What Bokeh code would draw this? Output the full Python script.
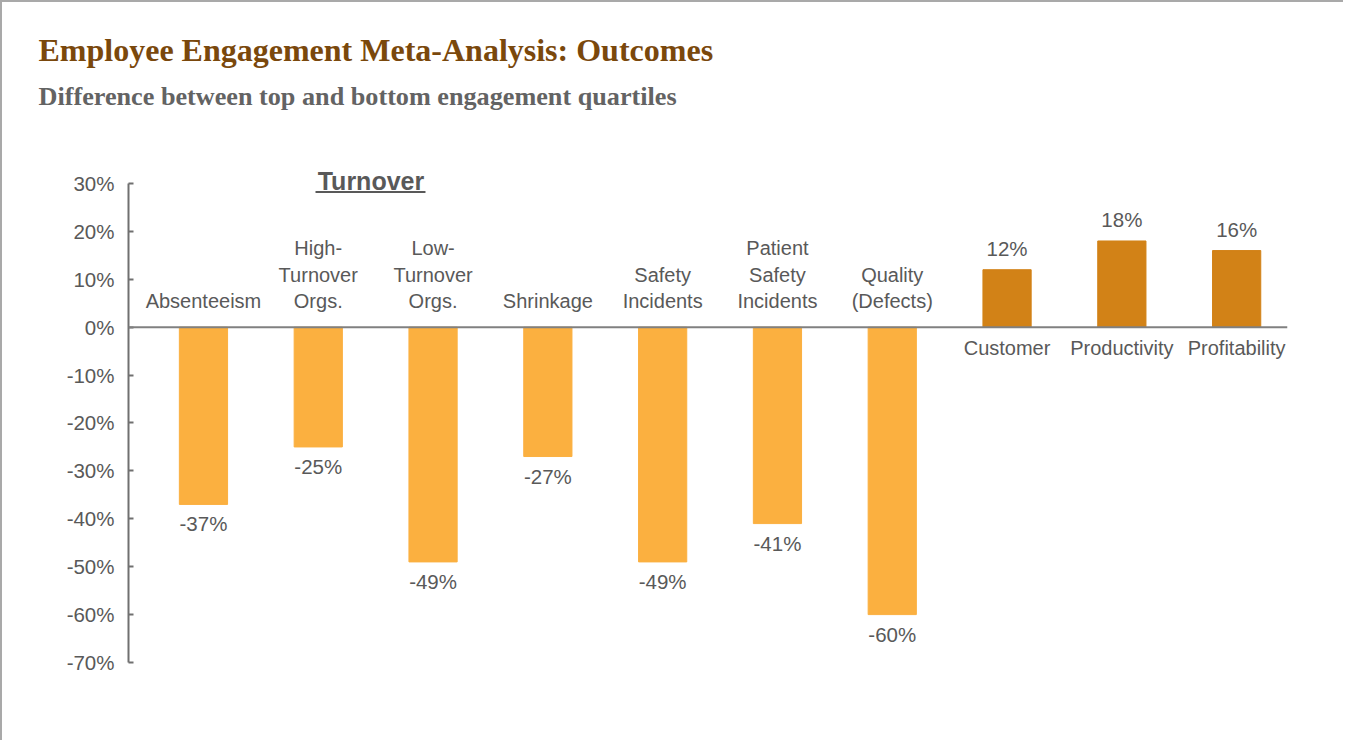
from bokeh.plotting import figure
from bokeh.models import ColumnDataSource, Range1d, Label, FixedTicker, PrintfTickFormatter, Span, Title
from bokeh.embed import file_html
from bokeh.resources import INLINE
from bokeh.core.properties import value

# ---------------- data ----------------
categories = ["Absenteeism", "High-\nTurnover\nOrgs.", "Low-\nTurnover\nOrgs.", "Shrinkage",
              "Safety\nIncidents", "Patient\nSafety\nIncidents", "Quality\n(Defects)",
              "Customer", "Productivity", "Profitability"]
values = [-37, -25, -49, -27, -49, -41, -60, 12, 18, 16]
y_ticks = [-70, -60, -50, -40, -30, -20, -10, 0, 10, 20, 30]
group_label = "Turnover"
title_text = "Employee Engagement Meta-Analysis: Outcomes"
subtitle_text = "Difference between top and bottom engagement quartiles"

# ---------------- styles ----------------
NEG_COLOR = "#FBB040"
POS_COLOR = "#D28217"
TEXT_COLOR = "#595959"
SANS = "Liberation Sans"
SERIF = "Liberation Serif"

xs = list(range(len(categories)))
colors = [NEG_COLOR if v < 0 else POS_COLOR for v in values]

p = figure(width=1343, height=740, title=None,
           x_range=Range1d(-0.653, 9.443), y_range=Range1d(-70, 40.02),
           output_backend="svg", toolbar_location=None, x_axis_location=None,
           min_border_left=126, min_border_right=58, min_border_top=133, min_border_bottom=80)
p.styles = {"border-left": "2px solid #a9a9a9", "border-top": "2px solid #a9a9a9"}
p.outline_line_color = None
p.xgrid.visible = False
p.ygrid.visible = False
p.background_fill_color = "white"
p.border_fill_color = "white"

ax = p.yaxis[0]
ax.bounds = (y_ticks[0], y_ticks[-1])
ax.ticker = FixedTicker(ticks=y_ticks)
ax.formatter = PrintfTickFormatter(format="%d%%")
ax.major_tick_in = 5
ax.major_tick_out = 0
ax.minor_tick_line_color = None
ax.axis_line_color = "#707070"
ax.axis_line_width = 2
ax.major_tick_line_color = "#707070"
ax.major_tick_line_width = 2
ax.major_label_text_font = SANS
ax.major_label_text_font_size = "20.5px"
ax.major_label_text_color = TEXT_COLOR
ax.major_label_standoff = 14

src = ColumnDataSource(dict(x=xs, top=values, color=colors))
p.vbar(x="x", top="top", bottom=0, width=0.42, color="color", source=src)

p.add_layout(Span(location=0, dimension="width", line_color="#808080", line_width=2))

neg = ColumnDataSource(dict(x=[x for x, v in zip(xs, values) if v < 0],
                            y=[v for v in values if v < 0],
                            cat=[c for c, v in zip(categories, values) if v < 0],
                            lab=[f"{v}%" for v in values if v < 0]))
pos = ColumnDataSource(dict(x=[x for x, v in zip(xs, values) if v >= 0],
                            y=[v for v in values if v >= 0],
                            cat=[c for c, v in zip(categories, values) if v >= 0],
                            lab=[f"{v}%" for v in values if v >= 0]))

common = dict(text_font=value(SANS), text_color=TEXT_COLOR, text_align="center")
# category labels
p.text(x="x", y=0, text="cat", source=neg, text_baseline="bottom", y_offset=-15,
       text_font_size="20px", text_line_height=1.2, **common)
p.text(x="x", y=0, text="cat", source=pos, text_baseline="top", y_offset=10,
       text_font_size="20px", text_line_height=1.2, **common)
# value labels
p.text(x="x", y="y", text="lab", source=neg, text_baseline="top", y_offset=8,
       text_font_size="20.5px", **common)
p.text(x="x", y="y", text="lab", source=pos, text_baseline="bottom", y_offset=-10,
       text_font_size="20.5px", **common)

# group label "Turnover" (underlined)
p.add_layout(Label(x=1.459, y=30.42, text=group_label, text_font=SANS, text_font_style="bold",
                   text_font_size="25px", text_color=TEXT_COLOR, text_align="center",
                   text_baseline="middle"))
p.segment(x0=[0.976], y0=[28.23], x1=[1.934], y1=[28.23], line_color=TEXT_COLOR, line_width=2)

# titles (subtitle added first -> closest to plot)
p.add_layout(Title(text=subtitle_text, text_font=SERIF, text_font_style="bold",
                   text_font_size="26.2px", text_color="#636363", align="left",
                   offset=-90, standoff=49), "above")
p.add_layout(Title(text=title_text, text_font=SERIF, text_font_style="bold",
                   text_font_size="32px", text_color="#7A480C", align="left",
                   offset=-90, standoff=-24), "above")

open("out.html", "w").write(file_html(p, INLINE))
